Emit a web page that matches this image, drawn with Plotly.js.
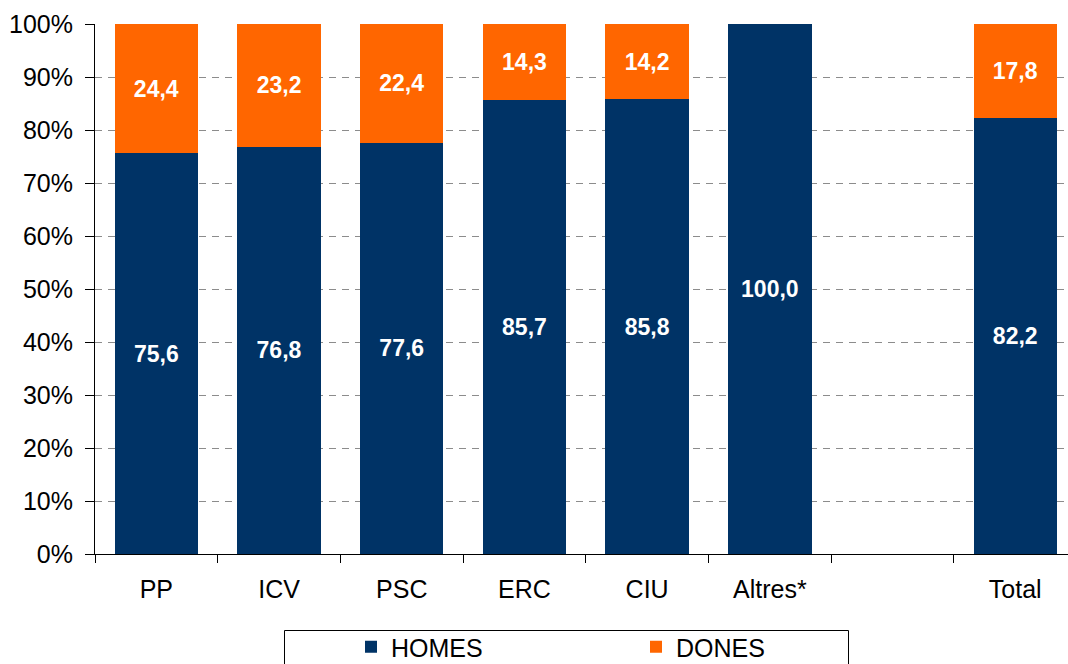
<!DOCTYPE html>
<html>
<head>
<meta charset="utf-8">
<script src="https://cdn.plot.ly/plotly-3.0.1.min.js"></script>
<style>html,body{margin:0;padding:0;background:#fff;}#chart{width:1068px;height:664px;}</style>
</head>
<body>
<div id="chart"></div>
<script>
var categories = ["PP", "ICV", "PSC", "ERC", "CIU", "Altres*", " ", "Total"];
var homes = [75.6, 76.8, 77.6, 85.7, 85.8, 100.0, null, 82.2];
var dones = [24.4, 23.2, 22.4, 14.3, 14.2, null, null, 17.8];
var yTickVals = [0, 10, 20, 30, 40, 50, 60, 70, 80, 90, 100];
var yTickLabels = ["0%", "10%", "20%", "30%", "40%", "50%", "60%", "70%", "80%", "90%", "100%"];

var FONT = "Liberation Sans, Arial, sans-serif";

var traces = [
  {
    type: "bar", name: "HOMES", x: categories, y: homes,
    marker: {color: "#003366"},
    texttemplate: "%{y:.1f}", textposition: "inside", insidetextanchor: "middle",
    textfont: {family: FONT, size: 23, color: "#ffffff", weight: "bold"},
    hoverinfo: "skip"
  },
  {
    type: "bar", name: "DONES", x: categories, y: dones,
    marker: {color: "#FF6600"},
    texttemplate: "%{y:.1f}", textposition: "inside", insidetextanchor: "middle",
    textfont: {family: FONT, size: 23, color: "#ffffff", weight: "bold"},
    hoverinfo: "skip"
  }
];

var L = 95, W = 973, T = 24, H = 530, FW = 1068, FH = 664;
function px2x(p){ return (p - L) / W; }
function py2y(p){ return (T + H - p) / H; }

var layout = {
  width: FW, height: FH,
  margin: {l: L, r: 0, t: T, b: FH - T - H, pad: 0, autoexpand: false},
  paper_bgcolor: "#ffffff", plot_bgcolor: "#ffffff",
  barmode: "stack", bargap: 0.32,
  separators: ",.",
  font: {family: FONT, size: 25, color: "#000000"},
  showlegend: true,
  legend: {
    orientation: "h", xref: "container", yref: "container",
    x: 351 / FW, xanchor: "left",
    y: 1 - 647 / FH, yanchor: "middle",
    font: {family: FONT, size: 25, color: "#000000"},
    entrywidth: 240, entrywidthmode: "pixels",
    bgcolor: "rgba(0,0,0,0)", borderwidth: 0,
    traceorder: "normal"
  },
  xaxis: {
    type: "category", range: [-0.5, 7.43],
    tickson: "boundaries", ticks: "outside", ticklen: 8, tickcolor: "#000000",
    showline: true, linecolor: "#000000", linewidth: 1,
    showgrid: false, zeroline: false,
    ticklabelstandoff: 13,
    tickfont: {family: FONT, size: 25, color: "#000000"},
    fixedrange: true
  },
  yaxis: {
    range: [0, 100], tickmode: "array", tickvals: yTickVals, ticktext: yTickLabels,
    ticks: "outside", ticklen: 9, tickcolor: "#000000",
    showline: true, linecolor: "#000000", linewidth: 1,
    showgrid: true, gridcolor: "#8c8c8c", gridwidth: 1, griddash: "7px,6px",
    zeroline: false,
    ticklabelstandoff: 7,
    tickfont: {family: FONT, size: 25, color: "#000000"},
    fixedrange: true
  },
  shapes: [
    {type: "rect", xref: "paper", yref: "paper",
     x0: px2x(284.5), x1: px2x(848.5), y0: py2y(630.5), y1: py2y(700),
     line: {color: "#000000", width: 1}, fillcolor: "rgba(0,0,0,0)", layer: "above"}
  ]
};

Plotly.newPlot("chart", traces, layout, {displayModeBar: false, staticPlot: true});
</script>
</body>
</html>
